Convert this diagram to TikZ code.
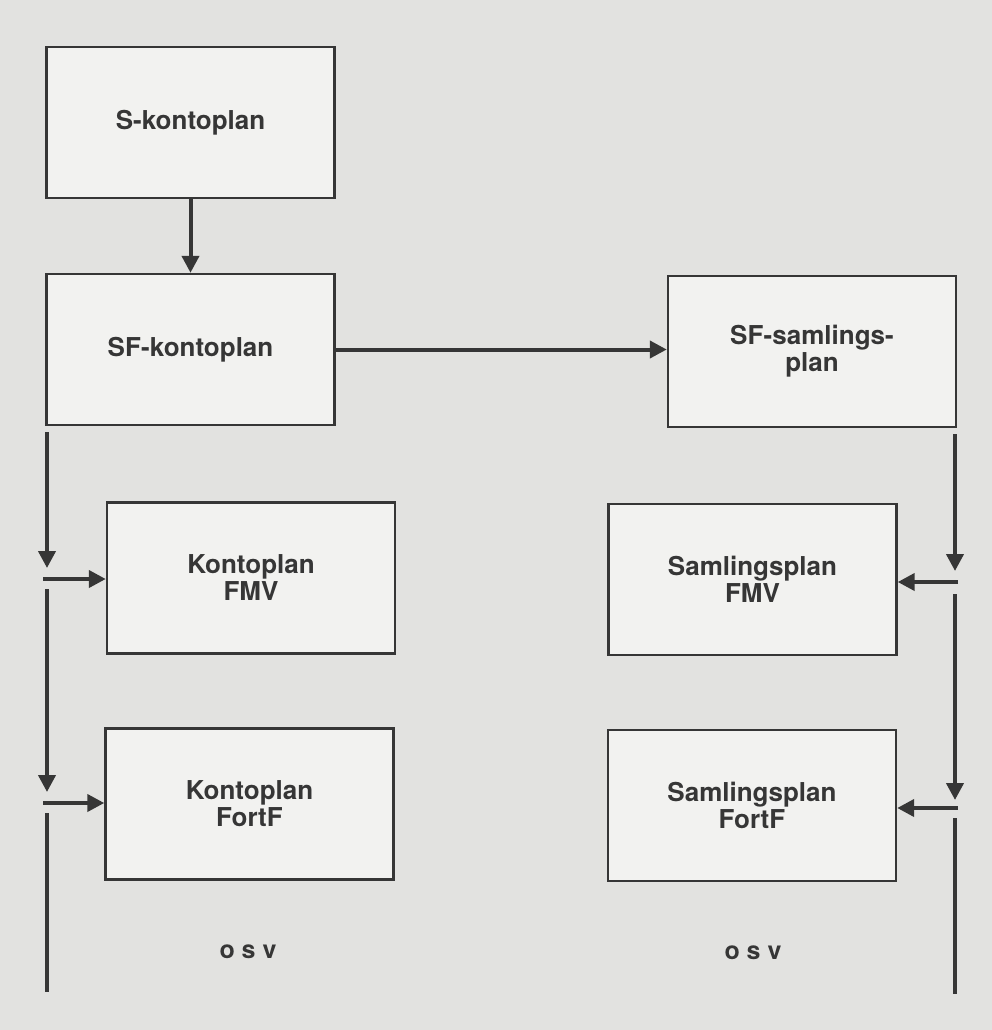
\documentclass[tikz,border=0pt]{standalone}
\usepackage{fontspec}
\setmainfont{TeX Gyre Heros}
\usetikzlibrary{arrows.meta}

\definecolor{paper}{HTML}{E2E2E0}
\definecolor{boxfill}{HTML}{F2F2F0}
\definecolor{ink}{HTML}{363636}

\begin{document}
\begin{tikzpicture}[x=0.5pt, y=-0.5pt,
    plan/.style={draw=ink, line width=1.2pt, fill=boxfill, text=ink,
      minimum width=144pt, minimum height=75.5pt, inner sep=0pt,
      align=center, font=\bfseries\fontsize{13}{13.5}\selectfont},
    flow/.style={draw=ink, line width=2pt, -{Triangle[length=8.5pt, width=8.5pt]}},
    trunk/.style={draw=ink, line width=2pt},
    etc/.style={text=ink, font=\bfseries\fontsize{12.5}{13}\selectfont}]
  \fill[paper] (0, 0) rectangle (992, 1030);
  \useasboundingbox (0, 0) rectangle (992, 1030);

  % plan boxes
  \node[plan] (s) at (190.5, 122.5) {S-kontoplan};
  \node[plan] (sf) at (190.5, 349.5) {SF-kontoplan};
  \node[plan] (sfs) at (812, 351.5) {SF-samlings-\\plan};
  \node[plan] (kfmv) at (251, 578) {Kontoplan\\FMV};
  \node[plan] (sfmv) at (752.5, 579.5) {Samlingsplan\\FMV};
  \node[plan] (kfort) at (249.5, 804) {Kontoplan\\FortF};
  \node[plan] (sfort) at (752, 805.5) {Samlingsplan\\FortF};

  \node[etc] (kosv) at (248, 952) {o s v};
  \node[etc] (sosv) at (753, 953) {o s v};

  % main arrows
  \draw[flow] (s) -- (sf);
  \draw[flow] (sf.east) -- (sf.east -| sfs.west);

  % left trunk: SF-kontoplan down to the kontoplaner
  \foreach \pname / \ycord in {l0/432, l1/568, l2/589, l3/792, l4/813, l5/992, lh1/579, lh2/803} {
    \coordinate (\pname) at (47, \ycord);
  }
  \draw[flow] (l0) -- (l1);
  \draw[flow] (l2) -- (l3);
  \draw[trunk] (l4) -- (l5);
  \draw[flow] ([xshift=-2pt]lh1) -- (lh1 -| kfmv.west);
  \draw[flow] ([xshift=-2pt]lh2) -- (lh2 -| kfort.west);

  % right trunk: SF-samlingsplan down to the samlingsplaner
  \foreach \pname / \ycord in {r0/434, r1/571, r2/594, r3/800, r4/818, r5/994, rh1/582, rh2/808} {
    \coordinate (\pname) at (955, \ycord);
  }
  \draw[flow] (r0) -- (r1);
  \draw[flow] (r2) -- (r3);
  \draw[trunk] (r4) -- (r5);
  \draw[flow] ([xshift=1.5pt]rh1) -- (rh1 -| sfmv.east);
  \draw[flow] ([xshift=1.5pt]rh2) -- (rh2 -| sfort.east);
\end{tikzpicture}
\end{document}
